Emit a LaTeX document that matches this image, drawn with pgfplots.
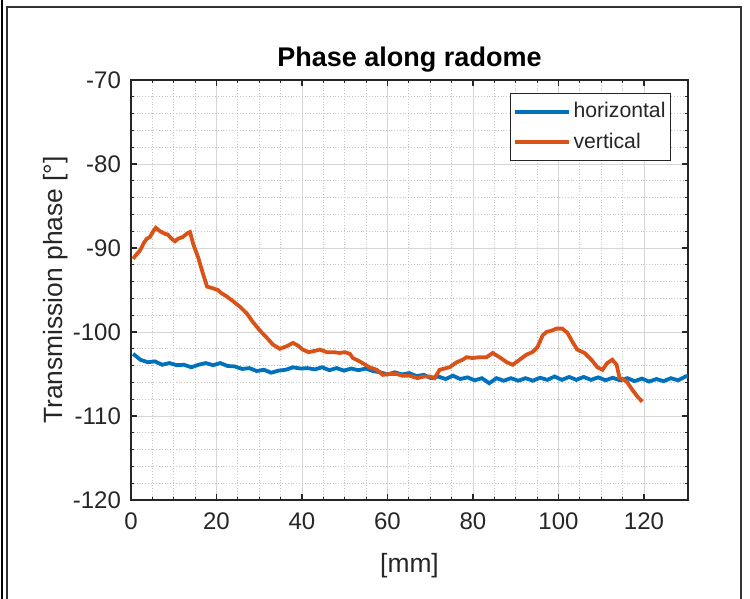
\documentclass[border=0pt]{standalone}
\usepackage{fontspec}
\setmainfont{Liberation Sans}
\usepackage{pgfplots}
\pgfplotsset{compat=1.18}

\definecolor{mblue}{RGB}{0,114,189}
\definecolor{morange}{RGB}{217,83,25}
\definecolor{axcol}{RGB}{38,38,38}

\begin{document}
\begin{tikzpicture}
\useasboundingbox (0,0) rectangle (375pt,299.5pt);
% figure frame
\draw[line width=0.9pt, black] (1pt,0) -- (1pt,299.5pt);
\draw[line width=0.6pt, black!80] (3.5pt,0) -- (3.5pt,296pt) -- (370.5pt,296pt) -- (370.5pt,0);

\begin{axis}[
  at={(65.5pt,49.5pt)}, anchor=south west,
  scale only axis, width=278.5pt, height=210pt,
  xmin=0, xmax=130.3, ymin=-120, ymax=-70,
  xtick={0,20,...,120}, xticklabels={0,20,40,60,80,100,120},
  ytick={-120,-110,...,-70}, yticklabels={-120,-110,-100,-90,-80,-70},
  minor x tick num=3, minor y tick num=4,
  tick align=inside, major tick length=2.8pt, minor tick length=1.4pt,
  axis line style={axcol, line width=0.55pt},
  every tick/.style={axcol, line width=0.55pt},
  grid=both,
  major grid style={black!16, line width=0.4pt},
  minor grid style={black!22, densely dotted, line width=0.4pt},
  tick label style={font=\fontsize{12}{14}\selectfont, text=axcol},
  yticklabel style={xshift=-1.5pt},
  xticklabel style={yshift=-3pt},
  title={Phase along radome},
  title style={at={(axis description cs:0.5,1.019)}, anchor=center, yshift=0pt, font=\fontsize{13.5}{16}\selectfont\bfseries},
  xlabel={[mm]},
  xlabel style={at={(axis description cs:0.5,-0.157)}, anchor=center, font=\fontsize{13.2}{15}\selectfont, text=axcol},
  ylabel={Transmission phase [°]},
  ylabel style={at={(axis description cs:-0.135,0.5)}, anchor=center, font=\fontsize{13.2}{15}\selectfont, text=axcol},
  legend cell align=left,
  legend style={at={(axis description cs:0.9695,0.969)}, anchor=north east,
    draw=axcol, line width=0.5pt, fill=white,
    font=\fontsize{10.6}{12}\selectfont, text=axcol,
    inner xsep=1pt, inner ysep=3pt, row sep=3pt,
    nodes={inner xsep=1.5pt, inner ysep=1.5pt}},
  legend image code/.code={\draw[#1, line width=1.9pt] (0pt,0pt) -- (27pt,0pt);},
]

% horizontal polarisation
\addplot[mblue, line width=1.9pt] coordinates {
(0.5,-102.6) (2.2,-103.3) (3.9,-103.6) (5.6,-103.5) (7.3,-103.9) (9.0,-103.7)
(10.7,-103.95) (12.4,-103.9) (14.1,-104.2) (15.8,-103.9) (17.5,-103.7) (19.2,-103.95)
(20.9,-103.7) (22.6,-104.05) (24.3,-104.1) (26.0,-104.4) (27.7,-104.3) (29.4,-104.65)
(31.1,-104.5) (32.8,-104.85) (34.5,-104.6) (36.2,-104.5) (37.9,-104.2) (39.6,-104.35)
(41.3,-104.3) (43.0,-104.45) (44.7,-104.2) (46.4,-104.55) (48.1,-104.3) (49.8,-104.6)
(51.5,-104.35) (53.2,-104.55) (54.9,-104.35) (56.6,-104.65) (58.3,-104.8) (60.0,-105.05)
(61.7,-104.8) (63.4,-105.05) (65.1,-104.9) (66.8,-105.25) (68.5,-105.1) (70.2,-105.5)
(71.9,-105.3) (73.6,-105.6) (75.3,-105.2) (77.0,-105.6) (78.7,-105.4) (80.4,-105.75)
(82.1,-105.5) (83.8,-106.1) (85.5,-105.5) (87.2,-105.8) (88.9,-105.5) (90.6,-105.8)
(92.3,-105.5) (94.0,-105.8) (95.7,-105.45) (97.4,-105.7) (99.1,-105.3) (100.8,-105.7)
(102.5,-105.35) (104.2,-105.7) (105.9,-105.35) (107.6,-105.7) (109.3,-105.4) (111.0,-105.75)
(112.7,-105.45) (114.4,-105.75) (116.1,-105.5) (117.8,-105.85) (119.5,-105.55) (121.2,-105.9)
(122.9,-105.6) (124.6,-105.85) (126.3,-105.5) (128.0,-105.75) (129.7,-105.3) (130.3,-105.2)
};
\addlegendentry{horizontal}

% vertical polarisation
\addplot[morange, line width=1.9pt] coordinates {
(0.5,-91.3) (0.9,-91.0) (2.1,-90.3) (3.0,-89.4) (3.7,-88.9) (4.4,-88.7) (5.2,-88.0)
(5.8,-87.6) (6.8,-88.0) (7.9,-88.3) (8.6,-88.4) (9.5,-88.9) (10.3,-89.2) (11.0,-88.9)
(12.1,-88.7) (13.3,-88.2) (13.8,-88.1) (14.6,-89.6) (15.7,-91.1) (16.8,-93.0) (17.8,-94.6)
(19.2,-94.8) (20.3,-95.0) (21.2,-95.4) (22.2,-95.7) (23.8,-96.3) (25.5,-97.0) (27.1,-97.8)
(28.5,-98.8) (30.1,-99.8) (31.8,-100.7) (33.2,-101.5) (34.8,-102.0) (36.4,-101.7)
(37.9,-101.3) (39.0,-101.6) (40.2,-102.1) (41.5,-102.4) (42.5,-102.3) (44.2,-102.1)
(45.8,-102.4) (47.5,-102.4) (48.8,-102.5) (50.0,-102.4) (51.2,-102.6) (51.9,-103.1)
(53.5,-103.5) (55.8,-104.2) (57.5,-104.5) (58.9,-105.1) (60.5,-105.0) (62.1,-105.0)
(63.5,-105.2) (65.2,-105.2) (67.0,-105.5) (68.5,-105.3) (70.0,-105.3) (71.0,-105.5)
(72.2,-104.5) (74.5,-104.2) (76.2,-103.6) (77.6,-103.3) (78.5,-103.0) (79.9,-103.1)
(81.5,-103.0) (83.2,-103.0) (84.6,-102.5) (86.2,-103.0) (87.9,-103.6) (89.3,-103.9)
(90.9,-103.3) (92.5,-102.7) (93.9,-102.4) (95.1,-101.8) (96.3,-100.4) (97.2,-100.0)
(98.6,-99.8) (99.5,-99.6) (100.9,-99.6) (102.1,-100.1) (103.3,-101.2) (104.4,-102.1)
(106.1,-102.5) (107.7,-103.3) (109.1,-104.2) (110.3,-104.5) (111.4,-103.7) (112.6,-103.3)
(113.6,-103.9) (114.3,-105.5) (115.4,-105.7) (116.1,-106.0) (117.3,-106.9) (118.5,-107.7)
(119.6,-108.3)
};
\addlegendentry{vertical}
\end{axis}
\end{tikzpicture}
\end{document}
